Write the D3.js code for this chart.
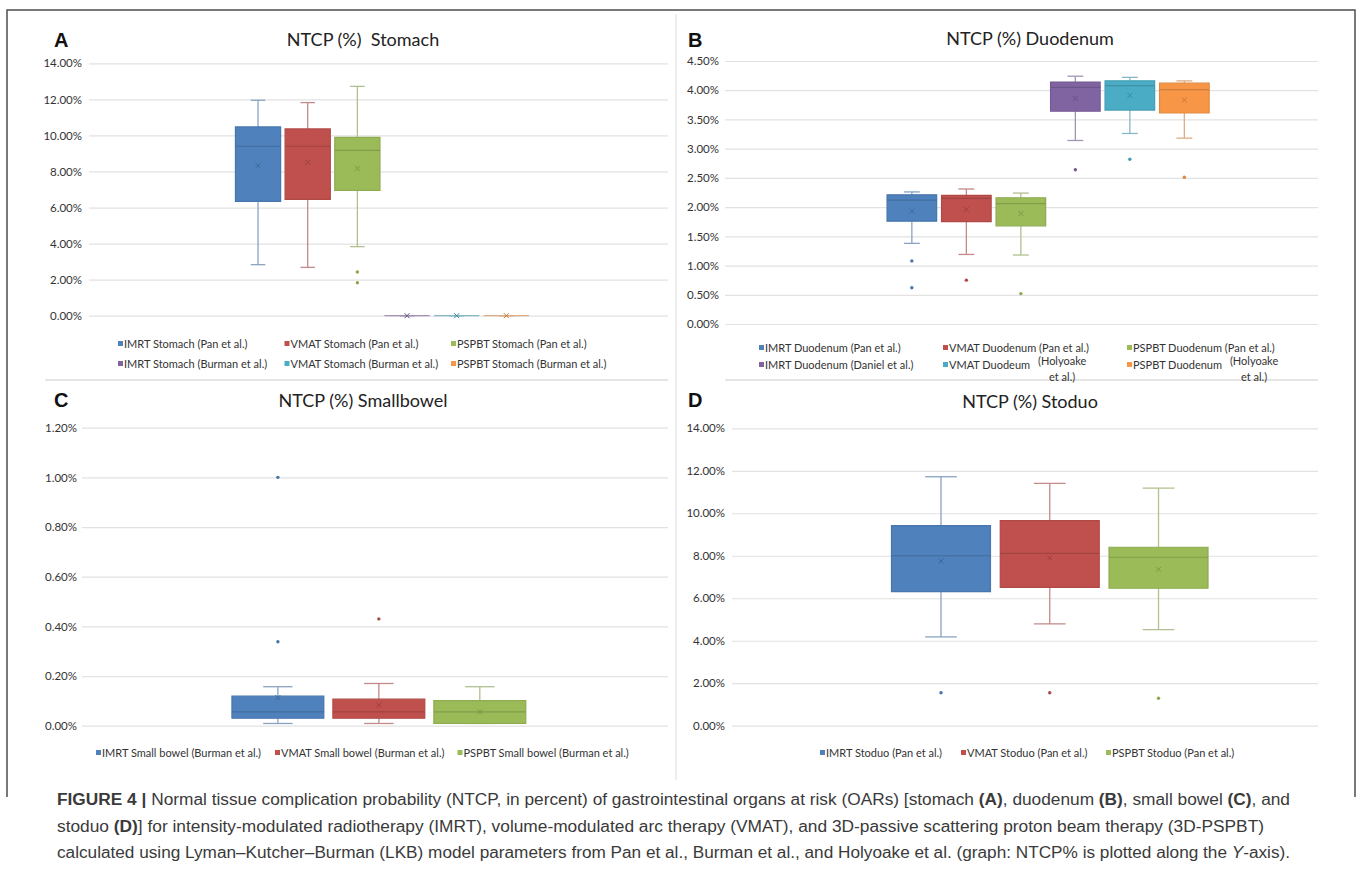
<!DOCTYPE html>
<html>
<head>
<meta charset="utf-8">
<script src="https://cdn.jsdelivr.net/npm/d3@7"></script>
<style>
  body { margin: 0; background: #fff; }
  svg text { font-family: Lato, "Open Sans", sans-serif; fill: #333; }
  .caption text { font-family: "Liberation Sans Narrow", "Liberation Sans", Arial, sans-serif; fill: #3a3a3a; }
</style>
</head>
<body>
<svg id="fig" width="1358" height="885"></svg>
<script>
// NTCP values in percent.
// each stats row: [lower whisker, Q1, median, Q3, upper whisker, mean]

const stomachSeries = [
  "IMRT Stomach (Pan et al.)", "VMAT Stomach (Pan et al.)", "PSPBT Stomach (Pan et al.)",
  "IMRT Stomach (Burman et al.)", "VMAT Stomach (Burman et al.)", "PSPBT Stomach (Burman et al.)"
];
const stomachStats = [
  [2.83, 6.34, 9.40, 10.47, 11.95, 8.32],
  [2.68, 6.45, 9.40, 10.36, 11.82, 8.51],
  [3.83, 6.95, 9.17, 9.89, 12.72, 8.17],
  [0, 0, 0, 0, 0, 0],
  [0, 0, 0, 0, 0, 0],
  [0, 0, 0, 0, 0, 0]
];
const stomachOutliers = [[], [], [2.42, 1.83], [], [], []];

const duodenumSeries = [
  "IMRT Duodenum (Pan et al.)", "VMAT Duodenum (Pan et al.)", "PSPBT Duodenum (Pan et al.)",
  "IMRT Duodenum (Daniel et al.)", "VMAT Duodeum (Holyoake et al.)", "PSPBT Duodenum (Holyoake et al.)"
];
const duodenumStats = [
  [1.38, 1.76, 2.12, 2.21, 2.26, 1.93],
  [1.19, 1.75, 2.15, 2.20, 2.31, 1.96],
  [1.18, 1.68, 2.06, 2.16, 2.24, 1.89],
  [3.14, 3.64, 4.05, 4.14, 4.24, 3.86],
  [3.26, 3.66, 4.08, 4.16, 4.22, 3.91],
  [3.18, 3.61, 4.01, 4.12, 4.16, 3.83]
];
const duodenumOutliers = [[1.08, 0.62], [0.75], [0.52], [2.64], [2.82], [2.51]];

const smallbowelSeries = [
  "IMRT Small bowel (Burman et al.)", "VMAT Small bowel (Burman et al.)", "PSPBT Small bowel (Burman et al.)"
];
const smallbowelStats = [
  [0.009, 0.030, 0.056, 0.119, 0.157, 0.113],
  [0.009, 0.030, 0.056, 0.107, 0.170, 0.083],
  [0.009, 0.009, 0.056, 0.101, 0.157, 0.056]
];
const smallbowelOutliers = [[0.338, 1.0], [0.43], []];

const stoduoSeries = ["IMRT Stoduo (Pan et al.)", "VMAT Stoduo (Pan et al.)", "PSPBT Stoduo (Pan et al.)"];
const stoduoStats = [
  [4.18, 6.31, 8.00, 9.42, 11.72, 7.75],
  [4.79, 6.51, 8.11, 9.65, 11.41, 7.90],
  [4.52, 6.47, 7.93, 8.40, 11.18, 7.36]
];
const stoduoOutliers = [[1.55], [1.55], [1.29]];

// Excel palette
const blue = "#4f81bd", red = "#c0504d", green = "#9bbb59",
      purple = "#8064a2", aqua = "#4bacc6", orange = "#f79646";

const svg = d3.select("#fig");

// frame and panel separators
svg.append("path")
  .attr("d", "M7,797 V10 H1355 V797")
  .attr("fill", "none")
  .attr("stroke", "#4d4d4d")
  .attr("stroke-width", 1.5);
svg.append("line").attr("x1", 676).attr("x2", 676).attr("y1", 14).attr("y2", 780)
  .attr("stroke", "#dcdcdc");
[[45, 668], [725, 1318]].forEach(([a, b]) => {
  svg.append("line").attr("x1", a).attr("x2", b).attr("y1", 380).attr("y2", 380)
    .attr("stroke", "#dcdcdc").attr("stroke-width", 1.5);
});

const panels = [
  { letter: "A", title: "NTCP (%)  Stomach", series: stomachSeries, stats: stomachStats,
    outliers: stomachOutliers, colors: [blue, red, green, purple, aqua, orange],
    yMax: 14, yStep: 2, left: 89, right: 668, top: 63.3, bottom: 315.7, band: [233.2, 531.2],
    labelGap: 7, letterX: 54, letterY: 47, titleX: 363, titleY: 46,
    legendCols: [118, 284.5, 451], legendRows: [344, 364] },
  { letter: "B", title: "NTCP (%) Duodenum", series: duodenumSeries, stats: duodenumStats,
    outliers: duodenumOutliers, colors: [blue, red, green, purple, aqua, orange],
    yMax: 4.5, yStep: 0.5, left: 725, right: 1318, top: 61, bottom: 324, band: [884.6, 1211.6],
    labelGap: 6, letterX: 688, letterY: 47, titleX: 1030, titleY: 45,
    legendCols: [759, 943, 1127], legendRows: [348, 365] },
  { letter: "C", title: "NTCP (%) Smallbowel", series: smallbowelSeries, stats: smallbowelStats,
    outliers: smallbowelOutliers, colors: [blue, red, green],
    yMax: 1.2, yStep: 0.2, left: 82, right: 668, top: 427.7, bottom: 725.7, band: [227.4, 530.3],
    labelGap: 5, letterX: 54, letterY: 407, titleX: 363, titleY: 407,
    legendCols: [96, 275, 457.5], legendRows: [753] },
  { letter: "D", title: "NTCP (%) Stoduo", series: stoduoSeries, stats: stoduoStats,
    outliers: stoduoOutliers, colors: [blue, red, green],
    yMax: 14, yStep: 2, left: 732, right: 1318, top: 428.3, bottom: 725.7, band: [886.6, 1212.9],
    labelGap: 7, letterX: 688, letterY: 407, titleX: 1030, titleY: 408,
    legendCols: [820, 961, 1106], legendRows: [753] }
];

function drawPanel(p) {
  const g = svg.append("g");

  const y = d3.scaleLinear().domain([0, p.yMax]).range([p.bottom, p.top]);
  const x = d3.scaleBand().domain(p.series).range(p.band).paddingInner(0.09).paddingOuter(0.045);
  const color = d3.scaleOrdinal().domain(p.series).range(p.colors);

  // letter + title
  g.append("text")
    .attr("x", p.letterX).attr("y", p.letterY)
    .style("font-family", "'Liberation Sans', Arial, sans-serif")
    .style("font-weight", "bold").style("font-size", "20px").style("fill", "#111")
    .text(p.letter);
  g.append("text")
    .attr("x", p.titleX).attr("y", p.titleY)
    .attr("text-anchor", "middle")
    .style("font-size", "18px").style("white-space", "pre").style("fill", "#222")
    .text(p.title);

  // y axis with gridlines
  const ticks = d3.range(0, p.yMax + p.yStep / 2, p.yStep);
  const ax = g.append("g")
    .attr("transform", `translate(${p.left},0)`)
    .call(d3.axisLeft(y).tickValues(ticks).tickSize(-(p.right - p.left))
      .tickPadding(p.labelGap).tickFormat(d => d.toFixed(2) + "%"));
  ax.select(".domain").remove();
  ax.selectAll(".tick line").attr("stroke", "#e2e2e2").attr("stroke-width", 1.2);
  ax.selectAll(".tick text")
    .style("font-family", "Lato, sans-serif").style("font-size", "11.5px").style("fill", "#333");

  // boxes
  p.series.forEach((name, i) => {
    const s = p.stats[i];
    const c = color(name);
    const bw = x.bandwidth();
    const x0 = x(name), cx = x0 + bw / 2;
    const cap = bw * 0.32;
    const wc = d3.interpolateRgb(c, "#c4c4c4")(0.5);
    const bg = g.append("g");

    // whiskers
    [[s[0], s[1]], [s[3], s[4]]].forEach(([a, b]) => {
      bg.append("line").attr("x1", cx).attr("x2", cx).attr("y1", y(a)).attr("y2", y(b))
        .attr("stroke", wc).attr("stroke-width", 1.3);
    });
    [s[0], s[4]].forEach(v => {
      bg.append("line").attr("x1", cx - cap / 2).attr("x2", cx + cap / 2)
        .attr("y1", y(v)).attr("y2", y(v))
        .attr("stroke", wc).attr("stroke-width", 1.3);
    });

    // box (path so a zero-height box still shows as a line)
    const yq3 = y(s[3]), yq1 = y(s[1]);
    bg.append("path")
      .attr("d", `M${x0},${yq3}H${x0 + bw}V${yq1}H${x0}Z`)
      .attr("fill", c)
      .attr("stroke", s[3] === s[1] ? wc : d3.color(c).darker(0.25))
      .attr("stroke-width", 1.2);

    // median
    if (s[3] !== s[1]) {
      bg.append("line").attr("x1", x0).attr("x2", x0 + bw)
        .attr("y1", y(s[2])).attr("y2", y(s[2]))
        .attr("stroke", d3.color(c).darker(0.5)).attr("stroke-width", 1.2);
    }

    // mean marker
    const my = y(s[5]), r = 2.5;
    bg.append("path")
      .attr("d", `M${cx - r},${my - r}L${cx + r},${my + r}M${cx - r},${my + r}L${cx + r},${my - r}`)
      .attr("stroke", d3.color(c).darker(0.6)).attr("stroke-width", 1).attr("fill", "none");

    // outliers
    bg.selectAll("circle.out")
      .data(p.outliers[i])
      .enter().append("circle")
      .attr("class", "out")
      .attr("cx", cx).attr("cy", d => y(d)).attr("r", 1.7)
      .attr("fill", d3.color(c).darker(0.3));
  });

  // legend
  const ncol = p.legendCols.length;
  p.series.forEach((name, i) => {
    const lx = p.legendCols[i % ncol], ly = p.legendRows[Math.floor(i / ncol)];
    const lg = g.append("g");
    lg.append("rect").attr("x", lx).attr("y", ly - 3).attr("width", 5).attr("height", 5)
      .attr("fill", color(name));
    const m = name.match(/^(.*) \((Holyoake) (et al\.\))$/);
    const t = lg.append("text").attr("x", lx + 6).attr("y", ly).attr("dy", "0.36em")
      .style("font-size", "11px").text(m ? m[1] : name);
    if (m) {
      const mid = lx + 6 + t.node().getComputedTextLength() + 4 + 28;
      lg.append("text").attr("x", mid).attr("y", ly - 4).attr("dy", "0.36em")
        .attr("text-anchor", "middle").style("font-size", "11px").text("(" + m[2]);
      lg.append("text").attr("x", mid).attr("y", ly + 12).attr("dy", "0.36em")
        .attr("text-anchor", "middle").style("font-size", "11px").text(m[3]);
    }
  });
}

panels.forEach(drawPanel);

// caption
const captionLines = [
  [["b", "FIGURE 4 |"], ["", " Normal tissue complication probability (NTCP, in percent) of gastrointestinal organs at risk (OARs) [stomach "],
   ["b", "(A)"], ["", ", duodenum "], ["b", "(B)"], ["", ", small bowel "], ["b", "(C)"], ["", ", and"]],
  [["", "stoduo "], ["b", "(D)"], ["", "] for intensity-modulated radiotherapy (IMRT), volume-modulated arc therapy (VMAT), and 3D-passive scattering proton beam therapy (3D-PSPBT)"]],
  [["", "calculated using Lyman\u2013Kutcher\u2013Burman (LKB) model parameters from Pan et al., Burman et al., and Holyoake et al. (graph: NTCP% is plotted along the "],
   ["i", "Y"], ["", "-axis)."]]
];
const captionWidths = [1233, 1207, 1233];
const cap = svg.append("g").attr("class", "caption");
captionLines.forEach((parts, li) => {
  const t = cap.append("text")
    .attr("x", 57).attr("y", 805 + li * 26.5)
    .attr("textLength", captionWidths[li])
    .attr("lengthAdjust", "spacingAndGlyphs")
    .style("font-size", "16px").style("white-space", "pre");
  parts.forEach(([kind, str]) => {
    t.append("tspan")
      .style("font-weight", kind === "b" ? "bold" : "normal")
      .style("font-style", kind === "i" ? "italic" : "normal")
      .text(str);
  });
});
</script>
</body>
</html>
